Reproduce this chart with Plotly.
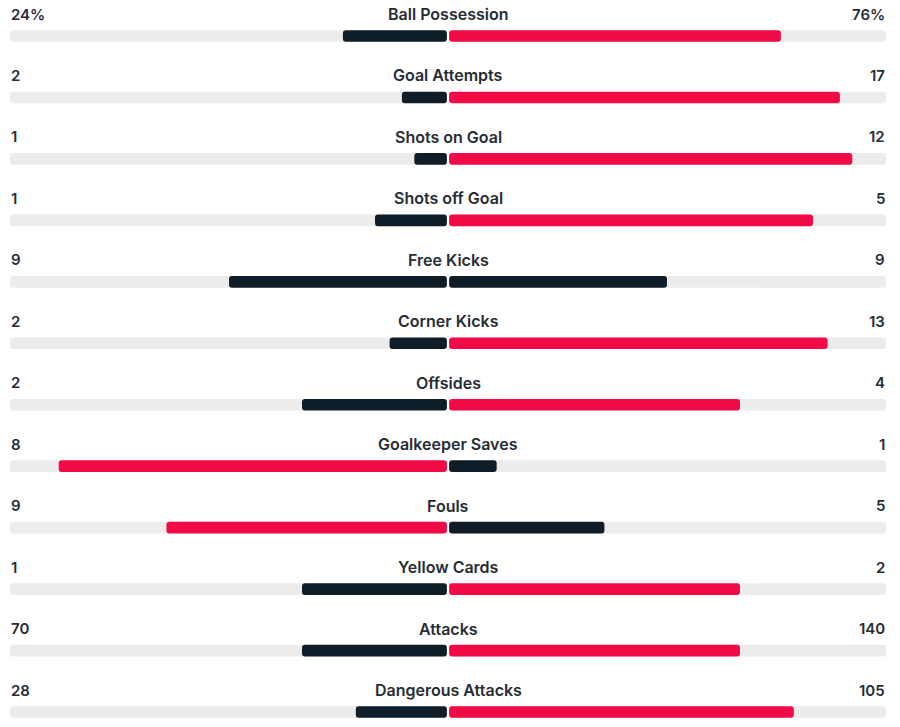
import plotly.graph_objects as go

stats = ["Ball Possession", "Goal Attempts", "Shots on Goal", "Shots off Goal",
         "Free Kicks", "Corner Kicks", "Offsides", "Goalkeeper Saves", "Fouls",
         "Yellow Cards", "Attacks", "Dangerous Attacks"]
home_values = [24, 2, 1, 1, 9, 2, 2, 8, 9, 1, 70, 28]
away_values = [76, 17, 12, 5, 9, 13, 4, 1, 5, 2, 140, 105]
home_labels = ["24%", "2", "1", "1", "9", "2", "2", "8", "9", "1", "70", "28"]
away_labels = ["76%", "17", "12", "5", "9", "13", "4", "1", "5", "2", "140", "105"]

RED = "#f20a46"
DARK = "#0e1d27"
GRAY = "#ececec"
GAP = 0.0025
BW = 0.19

rows = list(range(len(stats)))
home_frac = [h / (h + a) for h, a in zip(home_values, away_values)]
away_frac = [a / (h + a) for h, a in zip(home_values, away_values)]

def col(me, other):
    return RED if me > other else DARK

home_colors = [col(h, a) for h, a in zip(home_values, away_values)]
away_colors = [col(a, h) for h, a in zip(home_values, away_values)]

fig = go.Figure()
# background tracks
fig.add_trace(go.Bar(y=rows, x=[-(1 - GAP)] * len(rows), base=[-GAP] * len(rows),
                     orientation="h", width=BW, marker=dict(color=GRAY, line_width=0),
                     hoverinfo="skip", showlegend=False))
fig.add_trace(go.Bar(y=rows, x=[1 - GAP] * len(rows), base=[GAP] * len(rows),
                     orientation="h", width=BW, marker=dict(color=GRAY, line_width=0),
                     hoverinfo="skip", showlegend=False))
# value bars
fig.add_trace(go.Bar(y=rows, x=[-(f - GAP) for f in home_frac], base=[-GAP] * len(rows),
                     orientation="h", width=BW, marker=dict(color=home_colors, line_width=0),
                     showlegend=False, name="Home"))
fig.add_trace(go.Bar(y=rows, x=[f - GAP for f in away_frac], base=[GAP] * len(rows),
                     orientation="h", width=BW, marker=dict(color=away_colors, line_width=0),
                     showlegend=False, name="Away"))

title_font = dict(family="Inter, Roboto, sans-serif", size=16, color="#262c33", weight=600)
num_font = dict(family="Inter, Roboto, sans-serif", size=15, color="#262c33", weight=600)
ann = []
for i, s in enumerate(stats):
    ann.append(dict(x=0, y=i, xref="x", yref="y", text=s, showarrow=False,
                    xanchor="center", yanchor="middle", yshift=22, font=title_font))
    ann.append(dict(x=-1, y=i, xref="x", yref="y", text=home_labels[i], showarrow=False,
                    xanchor="left", yanchor="middle", yshift=22, font=num_font, xshift=-1))
    ann.append(dict(x=1, y=i, xref="x", yref="y", text=away_labels[i], showarrow=False,
                    xanchor="right", yanchor="middle", yshift=22, font=num_font, xshift=1))

fig.update_layout(
    width=900, height=727,
    margin=dict(l=10, r=14, t=0, b=0),
    paper_bgcolor="white", plot_bgcolor="white",
    barmode="overlay", barcornerradius=3,
    xaxis=dict(range=[-1, 1], visible=False, fixedrange=True),
    yaxis=dict(range=[11.244, -0.586], visible=False, fixedrange=True),
    annotations=ann,
)

fig.write_html("out.html")
